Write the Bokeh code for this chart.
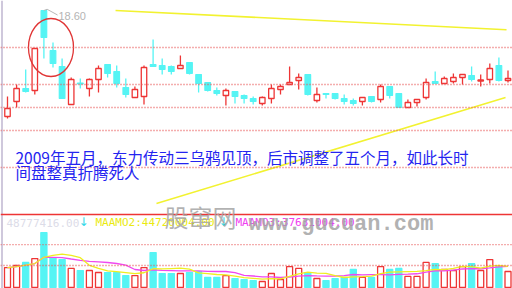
import pandas as pd
from bokeh.plotting import figure
from bokeh.models import Range1d, Span, ColumnDataSource, Label
from bokeh.embed import file_html
from bokeh.resources import INLINE

# Daily bars (price in yuan, volume in millions of shares)
day = list(range(1, 57))
open_ = [10.12, 11.32, 12.36, 12.20, 18.60, 15.40, 14.12, 11.08, 12.80, 12.36,
         13.08, 14.28, 13.72, 12.44, 11.64, 11.72, 14.28, 14.20, 14.12, 13.96,
         14.44, 13.48, 12.84, 12.20, 11.80, 12.12, 11.80, 11.56, 11.16, 11.56,
         12.28, 12.68, 13.00, 13.48, 11.40, 11.96, 11.96, 11.56, 11.40, 11.32,
         11.72, 11.48, 12.52, 11.96, 10.84, 11.24, 11.64, 12.92, 12.76, 12.92,
         13.24, 13.40, 12.96, 13.08, 14.20, 13.00]
high = [11.72, 12.68, 13.88, 15.56, 18.60, 16.04, 14.76, 13.24, 13.16, 13.16,
        14.20, 14.28, 14.20, 13.16, 12.52, 14.20, 16.28, 14.76, 14.20, 15.00,
        14.44, 13.48, 12.84, 12.44, 12.36, 12.12, 11.88, 11.72, 11.72, 12.68,
        12.68, 14.12, 13.56, 13.48, 12.44, 11.96, 11.96, 11.88, 11.56, 11.64,
        11.72, 12.68, 12.52, 11.96, 11.48, 11.48, 13.16, 13.72, 13.32, 13.56,
        13.48, 14.12, 13.48, 14.36, 14.84, 13.80]
low = [9.96, 10.84, 12.04, 11.88, 14.76, 14.04, 11.56, 11.08, 12.36, 11.72,
       12.04, 13.24, 12.44, 11.64, 11.64, 11.08, 14.12, 13.48, 13.48, 13.96,
       13.48, 12.04, 12.12, 11.80, 11.00, 11.16, 11.16, 11.08, 11.00, 11.16,
       11.88, 12.68, 12.28, 11.80, 11.24, 11.56, 11.48, 11.08, 11.00, 11.00,
       11.24, 11.24, 11.56, 10.84, 10.84, 10.92, 11.48, 12.76, 12.76, 12.76,
       12.68, 12.92, 12.52, 12.76, 12.92, 12.84]
close = [10.76, 12.36, 12.12, 15.56, 16.44, 14.36, 11.56, 13.08, 12.72, 13.08,
         13.96, 13.56, 12.76, 11.88, 12.28, 14.04, 14.12, 13.88, 13.72, 14.20,
         13.56, 12.76, 12.20, 11.96, 12.20, 11.72, 11.56, 11.32, 11.64, 12.36,
         12.52, 12.84, 13.24, 11.88, 11.88, 11.88, 11.56, 11.32, 11.16, 11.64,
         11.32, 12.52, 11.80, 10.84, 11.24, 11.48, 12.84, 12.76, 13.16, 13.24,
         13.48, 13.08, 13.04, 13.96, 13.00, 13.16]
volume = [17.7, 19.5, 22.2, 25.7, 48.8, 26.6, 24.8, 16.9, 15.1, 15.1,
          13.3, 13.3, 13.3, 10.6, 10.6, 17.7, 31.0, 12.4, 12.4, 12.4,
          13.3, 14.2, 8.9, 8.9, 10.6, 8.0, 7.1, 6.2, 5.3, 12.4,
          7.1, 18.6, 16.9, 13.3, 8.0, 6.2, 8.0, 8.9, 16.0, 8.9,
          8.9, 18.6, 16.0, 16.9, 9.8, 9.8, 22.2, 21.3, 16.0, 15.1,
          18.6, 21.3, 15.1, 24.8, 18.6, 14.2]

peak_label = "18.60"
price_grid = [15.64, 12.68, 10.84, 9.00, 6.04]
volume_grid = [38.1, 19.5]
volume_rule = 64.7

# hand-drawn trend lines (day, price)
upper_line_x = [12.87, 55.84]
upper_line_y = [18.60, 17.06]
lower_line_x = [17.37, 55.73]
lower_line_y = [3.16, 11.64]

note_line1 = "2009年五月，东力传动三乌鸦见顶，后市调整了五个月，如此长时"
note_line2 = "间盘整真折腾死人"
vol_text = "48777416.00"
ma2_text = "MAAMO2:44720004.00"
ma3_text = "MAAMO3:37631004.00"

RED = "#ee3535"
CYAN = "#55f4f4"
DOT = "#e85a5a"

df = pd.DataFrame(dict(day=day, open=open_, high=high, low=low, close=close, vol=volume))
df["top"] = df[["open", "close"]].max(axis=1)
df["bottom"] = df[["open", "close"]].min(axis=1)
df["ma5"] = df["vol"].rolling(5, min_periods=1).mean()
df["ma10"] = df["vol"].rolling(10, min_periods=1).mean()
up = df[df["close"] >= df["open"]]
dn = df[df["close"] < df["open"]]

step = 9.1  # pixels per trading day
x0 = 1 - 7 / step
p = figure(width=512, height=288, output_backend="svg", toolbar_location=None,
           x_range=Range1d(x0, x0 + 512 / step), y_range=Range1d(-3.64, 19.40),
           min_border=0, outline_line_color=None, background_fill_color="white",
           border_fill_color="white")
p.extra_y_ranges = {"vol": Range1d(-0.887, 254.57)}
p.axis.visible = False
p.grid.visible = False

# frame decorations
p.add_layout(Span(location=x0 + 1.5 / step, dimension="height", line_color="#cfc8dc", line_width=2))
for g in price_grid:
    p.add_layout(Span(location=g, dimension="width", line_color=DOT, line_dash="1 2", line_width=1.3))
for g in volume_grid:
    p.add_layout(Span(location=g, dimension="width", y_range_name="vol", line_color=DOT,
                      line_dash="1 2", line_width=1.3))
p.add_layout(Span(location=volume_rule, dimension="width", y_range_name="vol",
                  line_color=RED, line_width=1.5))

# candlesticks
src_up = ColumnDataSource(up)
src_dn = ColumnDataSource(dn)
p.segment("day", "high", "day", "low", source=src_dn, line_color=CYAN, line_width=1.3)
p.vbar("day", 0.62, "top", "bottom", source=src_dn, fill_color=CYAN, line_color=CYAN, line_width=1.2)
p.segment("day", "high", "day", "low", source=src_up, line_color=RED, line_width=1.3)
p.vbar("day", 0.6, "top", "bottom", source=src_up, fill_color="white", line_color=RED, line_width=1.3)

# volume bars and averages
p.vbar("day", 0.68, "vol", 0, source=src_dn, y_range_name="vol",
       fill_color=CYAN, line_color=CYAN, line_width=1.2)
p.vbar("day", 0.66, "vol", 0, source=src_up, y_range_name="vol",
       fill_color="white", line_color=RED, line_width=1.3)
src_all = ColumnDataSource(df)
p.line("day", "ma10", source=src_all, y_range_name="vol", line_color="#f048f0", line_width=1.3)
p.line("day", "ma5", source=src_all, y_range_name="vol", line_color="#eeee20", line_width=1.3)

# trend lines and marking circle
p.line(upper_line_x, upper_line_y, line_color="#f2f230", line_width=1.6)
p.line(lower_line_x, lower_line_y, line_color="#f2f230", line_width=1.6)
p.ellipse(x=5.78, y=15.64, width=4.95, height=4.64, fill_color=None,
          line_color="#e03535", line_width=1.3)

# peak marker
p.line([5.0, 5.35, 6.5], [18.60, 18.70, 18.24], line_color="#b8b8b8", line_width=1)
p.add_layout(Label(x=6.6, y=18.20, text=peak_label, text_font="Liberation Sans",
                   text_font_size="11px", text_color="#b4b4b4", text_baseline="middle"))

# annotation text
for txt, yy in [(note_line1, 6.88), (note_line2, 5.72)]:
    p.add_layout(Label(x=x0 + 15 / step, y=yy, text=txt, text_font="Noto Sans CJK SC",
                       text_font_size="15.5px", text_color="#2424f0", text_baseline="middle"))

# indicator header row
p.add_layout(Label(x=x0 + 6 / step, y=1.64, text=vol_text, text_font="DejaVu Sans Mono",
                   text_font_size="11px", text_color="#dcdce8", text_baseline="middle"))
p.add_layout(Label(x=x0 + 95 / step, y=1.64, text=ma2_text, text_font="DejaVu Sans Mono",
                   text_font_size="11px", text_color="#eaea10", text_baseline="middle"))
p.add_layout(Label(x=x0 + 235 / step, y=1.64, text=ma3_text, text_font="DejaVu Sans Mono",
                   text_font_size="11px", text_color="#f040f0", text_baseline="middle"))
for ax in [83, 223]:
    p.add_layout(Label(x=x0 + ax / step, y=1.72, text="↓", text_font="DejaVu Sans",
                       text_font_size="12px", text_color="#30d8e8", text_align="center",
                       text_baseline="middle"))

# site watermark
p.add_layout(Label(x=x0 + 200 / step, y=2.12, text="股窜网", text_font="Noto Sans CJK SC",
                   text_font_size="24px", text_color="#a4a4a4", text_alpha=0.85,
                   text_align="center", text_baseline="middle"))
p.add_layout(Label(x=x0 + 248 / step, y=1.48, text="www.gucuan.com",
                   text_font="Liberation Mono", text_font_style="bold",
                   text_font_size="22px", text_color="#a4a4a4", text_alpha=0.85,
                   text_baseline="alphabetic"))

open("out.html", "w").write(file_html(p, INLINE))
